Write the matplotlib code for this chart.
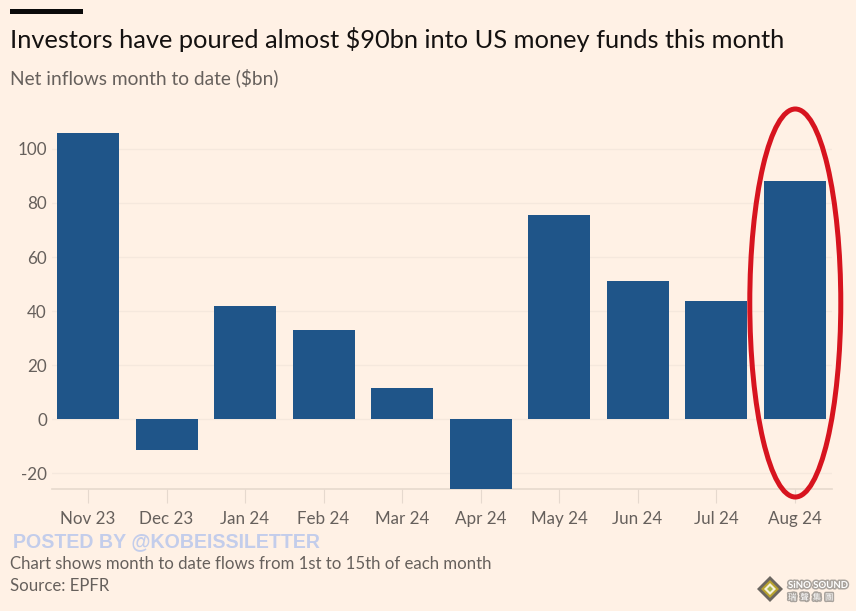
import matplotlib
matplotlib.use("Agg")
import matplotlib.pyplot as plt
import matplotlib.patheffects as pe
from matplotlib.patches import Ellipse, Rectangle, Polygon

plt.rcParams['font.family'] = ['Lato', 'DejaVu Sans']
plt.rcParams['axes.unicode_minus'] = False

months = ['Nov 23','Dec 23','Jan 24','Feb 24','Mar 24','Apr 24','May 24','Jun 24','Jul 24','Aug 24']
flows = [105.8,-11.5,41.8,33,11.3,-26,75.5,51,43.7,88.2]
yticks = [-20,0,20,40,60,80,100]

BG='#FFF1E5'; BAR='#1F5589'; GREY='#66605C'
W,H=856,611
fig=plt.figure(figsize=(W/100,H/100),dpi=100,facecolor=BG)
PT=72/100
L,R,T,B=52,832,108,489
ax=fig.add_axes([L/W,1-B/H,(R-L)/W,(B-T)/H],facecolor=BG)
x=list(range(len(months)))
ax.set_axisbelow(True)
ax.bar(x,flows,width=62/78.5,color=BAR,zorder=3)
ax.set_xlim((L-88)/78.5,(R-88)/78.5)
ax.set_ylim((419-B)/2.7,(419-T)/2.7)
ax.set_xticks(x,months)
ax.set_yticks(yticks)
ax.grid(axis='y',color='#F5E8DD',lw=1)
for s in ['top','right','left']: ax.spines[s].set_visible(False)
ax.spines['bottom'].set_color('#E6D9CE'); ax.spines['bottom'].set_linewidth(1.2)
ax.tick_params(axis='x',length=14*PT,width=0.8,color='#E6D9CE',labelsize=17*PT,labelcolor=GREY,pad=21*PT)
ax.tick_params(axis='y',length=0,labelsize=17*PT,labelcolor=GREY,pad=5*PT)
for lab in ax.get_xticklabels(): lab.set_va('baseline')
# hoop highlight
ax.add_patch(Ellipse((9.01,(419-303)/2.7),91/78.5,388/2.7,fill=False,ec='#D7141F',lw=5*PT,clip_on=False,zorder=5))

def t(px,py,s,size,c,**k):
    return fig.text(px/W,1-py/H,s,fontsize=size*PT,color=c,va='baseline',**k)
def diamond(cx,cy,r,fc,ec='none'):
    fig.add_artist(Polygon([((cx-r)/W,1-cy/H),(cx/W,1-(cy-r)/H),((cx+r)/W,1-cy/H),(cx/W,1-(cy+r)/H)],
                           transform=fig.transFigure,fc=fc,ec=ec,lw=0))
fig.add_artist(Rectangle((10/W,1-14/H),73/W,5/H,transform=fig.transFigure,color='#0A0A0A',lw=0))
t(10,48,'Investors have poured almost $90bn into US money funds this month',25.4,'#141110')
t(10,84,'Net inflows month to date ($bn)',19.1,GREY)
t(13,547,'POSTED BY @KOBEISSILETTER',19.6,'#C3CDEB',fontweight='bold',family=['Liberation Sans'])
t(10,569,'Chart shows month to date flows from 1st to 15th of each month',16.7,GREY)
t(10,591,'Source: EPFR',16.7,GREY)
# logo
diamond(770,589,13,'#6B6660'); diamond(770,589,9,'#B8A32E'); diamond(770,589,6,'#F5F1DC'); diamond(770,589,3,'#A9B84A')
g=[pe.withStroke(linewidth=2.2,foreground='#A9A39D')]
t(788,588,'SiNO SOUND',9.6,'#FFFFFF',fontweight='bold',path_effects=g)
t(788,600,'瑞  聲  集  團',8.5,'#FFFFFF',family=['Noto Sans CJK TC'],path_effects=g)
fig.savefig('out.png',dpi=100,facecolor=BG)
